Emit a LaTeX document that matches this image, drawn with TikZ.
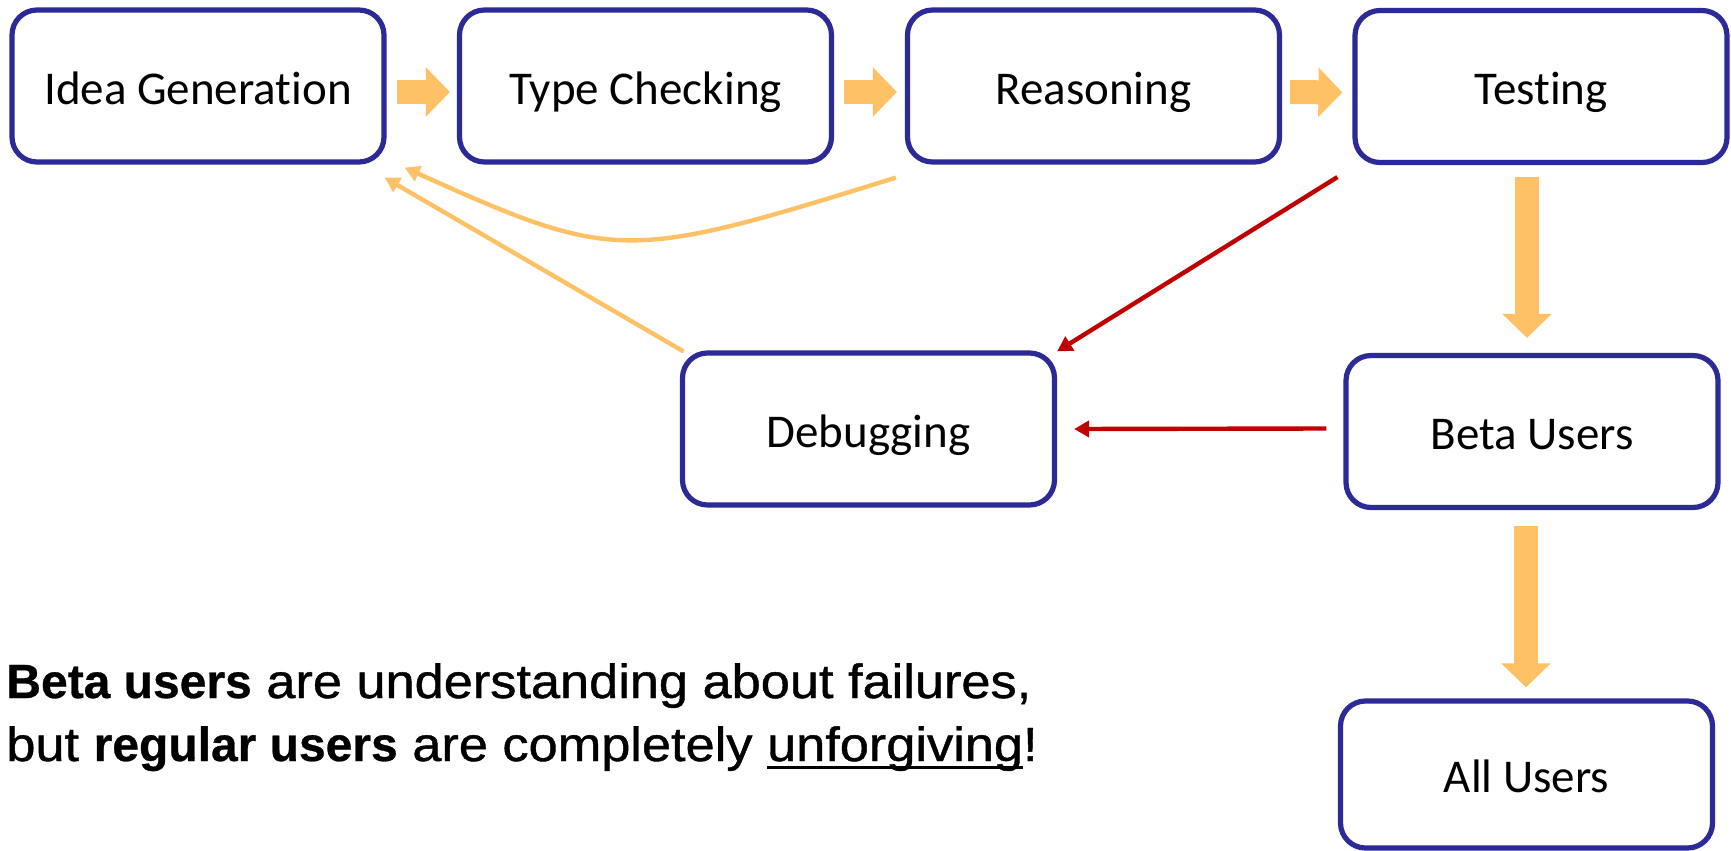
\documentclass[tikz,border=0pt]{standalone}
\usepackage{fontspec}
\setmainfont{Carlito}[Ligatures={NoCommon}]
\newfontfamily\notefont{Liberation Sans}[FakeStretch=1.09, FakeBold=0.9]
\newfontfamily\noteboldfont{Liberation Sans}[FakeBold=0.6]
\usetikzlibrary{arrows.meta,calc}
\definecolor{boxblue}{RGB}{43,42,150}
\definecolor{fillorange}{RGB}{255,193,102}
\definecolor{darkred}{RGB}{192,0,0}
\newcommand\ulword[1]{\setbox0\hbox{#1}\rlap{\rule[-3.75pt]{\wd0}{1.5pt}}\box0}
\newcommand\notebf[1]{{\noteboldfont\bfseries #1}}
\begin{document}
\begin{tikzpicture}[x=0.5pt,y=-0.5pt,
  stage/.style={draw=boxblue, line width=2.6pt, rounded corners=12.5pt, fill=white,
    minimum width=186pt, minimum height=76pt, inner sep=0pt,
    font=\fontsize{23.5}{28}\selectfont, text height=18pt, text depth=0pt},
  blockarrow/.style={draw=fillorange, line width=12pt, -{Triangle[length=12pt 0, width=24pt 0]}},
  feedback/.style={draw=fillorange, line width=2.2pt, -{Triangle[length=7.5pt 0, width=8pt 0]}},
  failpath/.style={draw=darkred, line width=2.2pt, -{Triangle[length=7.5pt 0, width=8pt 0]}},
  note/.style={anchor=base west, inner sep=0pt, font=\notefont\fontsize{24}{29}\selectfont}]
\useasboundingbox (0,0) rectangle (1731,851);
\node[stage] (idea) at (198,86) {Idea Generation};
\node[stage] (type) at (645.5,86) {Type Checking};
\node[stage] (reason) at (1093.5,86) {Reasoning};
\node[stage] (test) at (1541,86.5) {Testing};
\node[stage] (debug) at (868.5,429) {Debugging};
\node[stage] (beta) at (1532,431.5) {Beta Users};
\node[stage, minimum height=73.5pt] (all) at (1526.5,774.5) {All Users};
% block arrows
\draw[blockarrow] ([shift={(10,6)}]idea.east) -- ([shift={(-7,6)}]type.west);
\draw[blockarrow] ([shift={(10,6)}]type.east) -- ([shift={(-8,6)}]reason.west);
\draw[blockarrow] ([shift={(8,6)}]reason.east) -- ([shift={(-10,6)}]test.west);
\draw[blockarrow] ([shift={(-14,12)}]test.south) -- ([shift={(-5,-15)}]beta.north);
\draw[blockarrow] ([shift={(-6,15.5)}]beta.south) -- ([shift={(-0.5,-11)}]all.north);
% feedback arrows
\draw[feedback] ([shift={(-9,13)}]reason.south west) .. controls (625,262) and (615,262) .. ([shift={(18,3)}]idea.south east);
\draw[feedback] ([shift={(3.5,1)}]debug.north west) -- ([shift={(-2,13)}]idea.south east);
\draw[failpath] ([shift={(-15,12)}]test.south west) -- ([shift={(0,1)}]debug.north east);
\draw[failpath] ([shift={(-17,-3)}]beta.west) -- ([shift={(17,0)}]debug.east);
% note
\node[note] (line1) at (6,698) {\notebf{Beta users} are understanding about failures,};
\node[note] (line2) at (6,761) {but \notebf{regular users} are completely \ulword{unforgiving}!};
\end{tikzpicture}
\end{document}
